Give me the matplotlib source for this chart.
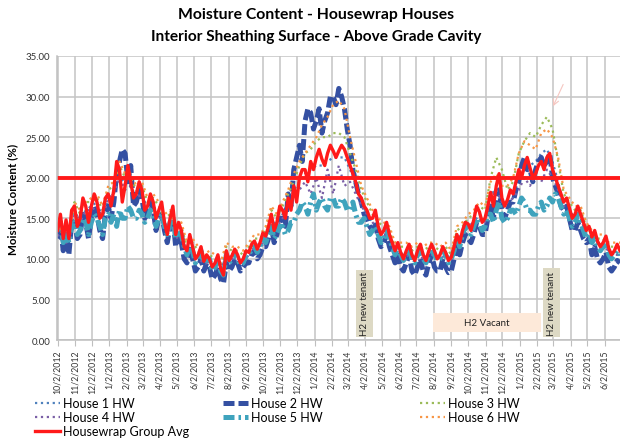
import pandas as pd
import matplotlib
matplotlib.use("Agg")
import matplotlib.pyplot as plt
import matplotlib.dates as mdates
from matplotlib.patches import Rectangle

plt.rcParams['font.family'] = ['Lato', 'DejaVu Sans']

# readings start 10/2/2012; dotted houses every 10 days, the rest every 5 days
start = pd.Timestamp('2012-10-02')
dates10 = pd.date_range(start, periods=101, freq='10D')
dates5 = pd.date_range(start, periods=201, freq='5D')

house1 = [13.5, 12, 12, 16, 14.5, 16, 16.5, 17, 15, 17.5, 18, 20.5, 19, 19, 17.5, 18, 16, 16.5, 15.5, 14,
          14.5, 12.5, 13, 10.5, 11, 10, 9.5, 10, 9, 8.5, 10.5, 10, 10, 9.5, 10.5, 12, 11.5, 12.5, 15, 14,
          15.5, 17, 18.5, 19.5, 20.5, 21, 21.5, 21.5, 22, 22.5, 22.5, 22.5, 21, 19, 17, 15.5, 14.5, 13.5, 13, 12.5,
          10.5, 10.5, 10.5, 10, 10.5, 10, 10.5, 10.5, 10, 10.5, 10, 12.5, 13, 14, 14.5, 15.5, 14.5, 18, 18.5, 17,
          17, 17.5, 20, 21, 21.5, 22, 23, 23.5, 22, 19.5, 16.5, 16, 15, 15, 13, 12.5, 12, 11.5, 11, 10.5, 10.5]
house3 = [14, 13, 13, 17, 15.5, 17, 17, 17.5, 16, 18.5, 19, 21.5, 20, 20, 18.5, 19, 17, 17.5, 16.5, 15,
          15.5, 13.5, 14, 11.5, 12, 11, 10, 10.5, 10, 9, 11.5, 11, 11, 10.5, 11.5, 12.5, 12.5, 13.5, 16, 15,
          16.5, 18, 19.5, 21.5, 23, 23.5, 24.5, 25, 25, 25.5, 25.5, 25, 23, 21, 18.5, 17, 15.5, 14.5, 14, 13.5,
          11.5, 11.5, 11.5, 11, 11.5, 11, 11.5, 11.5, 11, 11.5, 10.5, 13.5, 14, 15, 15.5, 16.5, 16, 20, 22.5, 21,
          18.5, 19.5, 23, 24.5, 25.5, 25, 26.5, 27.5, 26, 22, 18, 17, 16, 16, 14, 13, 12.5, 12.5, 11.5, 11.5, 11.5]
house4 = [13, 12, 12, 16, 14.5, 16, 16, 16.5, 15, 17.5, 18, 20, 18.5, 19, 17.5, 18, 16, 16.5, 15.5, 14,
          14.5, 12.5, 13, 10.5, 11, 10, 9.5, 9.5, 9, 8.5, 10.5, 10, 10, 9.5, 10.5, 11.5, 11.5, 12.5, 15, 14,
          15, 16.5, 18, 18.5, 19.5, 18, 20, 17.5, 21, 18, 21.5, 19, 19.5, 18, 16.5, 15.5, 14.5, 13.5, 13, 12.5,
          10.5, 10.5, 10.5, 10, 10.5, 10, 10.5, 10.5, 10, 10.5, 10, 12.5, 13, 14, 14.5, 15, 14.5, 17.5, 18.5, 17,
          17, 17.5, 18.5, 20, 19, 20.5, 19.5, 21, 20, 18.5, 16.5, 16, 15, 15, 13, 12.5, 12, 11.5, 11, 10.5, 10.5]
house6 = [14.5, 13, 13, 17, 16, 17, 17.5, 18, 16.5, 19, 19.5, 22, 20.5, 20.5, 19, 19.5, 17.5, 18, 17, 15.5,
          16, 14, 14.5, 12, 12.5, 11.5, 10.5, 11, 10.5, 9.5, 12, 11.5, 11.5, 11, 12, 13, 13, 14, 16.5, 15.5,
          17, 18.5, 20.5, 22, 23, 24, 25, 26.5, 27.5, 29, 29.5, 28.5, 25, 22, 19, 17.5, 16, 15, 14.5, 14,
          12, 12, 12, 11.5, 12, 11.5, 12, 12, 11.5, 12, 11, 14, 14.5, 15.5, 16, 17, 16.5, 19.5, 20.5, 19,
          19, 20, 23, 24.5, 24, 23.5, 25.5, 26, 25, 22.5, 18.5, 17.5, 16.5, 16.5, 14.5, 13.5, 13, 13, 12, 12, 12]

house2 = [12.5, 14, 11, 13, 10.5, 14.5, 14.5, 12.5, 13, 15.5, 14.5, 12.5, 15, 16.5, 15.5, 13.5, 12.5, 15.5, 16.5, 15,
          17, 20.5, 22, 23.5, 23, 19.5, 21.5, 16.5, 17, 18.5, 17.5, 15, 15.5, 17, 16, 13.5, 15, 15.5, 13.5, 12,
          14, 15, 11.5, 13, 12, 10, 9.5, 11.5, 10, 8.5, 9, 10, 8.5, 9.5, 9, 7.5, 8, 9, 7.5, 7,
          9.5, 8.5, 9, 10, 9.5, 8.5, 9, 9.5, 9.5, 10.5, 11, 10, 10.5, 11.5, 11.5, 12.5, 14, 12, 13, 15,
          15, 14, 18, 16.5, 21, 22.5, 24, 22, 27, 28.5, 28, 26, 27, 28.5, 25.5, 27, 28, 30, 30, 29,
          31, 30, 28.5, 26, 24, 21, 19.5, 18, 17, 15.5, 15, 14, 13.5, 14.5, 12.5, 11.5, 12, 13, 11.5, 10.5,
          9.5, 10.5, 9, 8.5, 9.5, 10.5, 8.5, 8, 9, 10, 8.5, 8, 9.5, 10.5, 9, 8.5, 8.5, 10, 9, 8.3,
          8.5, 10, 11.5, 10.5, 12, 13, 12.5, 12, 13, 14.5, 14, 13, 13, 15, 16.5, 15, 17.5, 18.5, 16, 15,
          16, 17, 17, 18.5, 19.5, 21.5, 22.5, 21, 21, 19.5, 21, 22, 22.5, 21.5, 22, 23, 20, 19, 18, 16.5,
          16, 16.5, 15, 13.5, 13.5, 14.5, 13.5, 12.5, 12, 12.5, 10.5, 11.5, 10, 9.5, 10, 10.8, 9, 8.5, 9, 9.8,
          9.5]
house5 = [13.5, 14.5, 12, 13.5, 12, 14, 14.5, 13, 13.5, 15, 14.5, 13, 14.5, 15.5, 15, 14, 13, 15, 15.5, 14.5,
          15.5, 14, 16, 15, 15, 16.5, 16, 15, 15, 16, 15.5, 14.5, 15, 16, 15.5, 14, 15, 15.5, 14, 13,
          14.5, 15, 12.5, 13.5, 13, 11.5, 10.5, 12, 11, 9.5, 10, 11, 9.5, 10, 10, 8.5, 9, 10, 8.5, 8,
          10.5, 9.5, 10, 10.8, 10, 9.2, 9.5, 10.5, 10.5, 11.2, 11.5, 10.8, 11.5, 12.5, 12, 13, 14, 12.5, 13, 14,
          14, 13, 13.5, 14.5, 14.5, 15.5, 16, 17, 16.5, 15.5, 17, 18, 16, 17, 17.5, 16.5, 16, 17.5, 17.5, 16.5,
          16.5, 17.5, 17, 16, 16, 17, 15.5, 14.5, 14.5, 15, 14, 13, 13.5, 14, 13, 12, 12.5, 13.5, 12.5, 11.5,
          10.5, 11.5, 10.5, 9.8, 10.5, 11.3, 10, 9.5, 10.5, 11.3, 10, 9.5, 10.5, 11.3, 10.5, 9.8, 10, 11, 10.5, 9.5,
          10, 11, 12.5, 11.5, 13, 14, 13.5, 13, 14, 15, 14.5, 13.5, 14, 15.5, 15.5, 14.5, 16, 17, 15, 14.5,
          15, 16, 16, 15.5, 16.5, 17.5, 17, 16, 16, 15.5, 15.5, 16.5, 17, 16, 16.5, 17.5, 17, 18, 17.5, 16.5,
          15.5, 16, 15, 14, 14.5, 15.5, 14.5, 13.5, 12.5, 13, 12, 12.5, 11.5, 11, 11.5, 12, 10.5, 10, 10.5, 11,
          10.5]
group_avg = [13.5, 15.5, 12.5, 14.8, 12.5, 16, 16.5, 14, 15, 17.5, 16.5, 14.5, 16.5, 18, 17, 15, 15.5, 17.5, 18, 16.5,
             18.5, 22, 21, 17, 19, 21.5, 19.5, 17.5, 18, 19.5, 18.5, 16, 16.5, 18, 17, 15, 16, 17, 14.5, 13,
             15, 16.5, 13, 14.5, 13.5, 11.5, 11, 13, 11.5, 10, 10.5, 11.5, 9.7, 10.5, 10, 9, 9.5, 10.5, 8.8, 8,
             11, 9.8, 10.4, 11.2, 10.5, 9.5, 10, 11, 10.8, 11.8, 12.2, 11.2, 12, 13.2, 12.8, 14, 15.5, 13.5, 14.5, 16.5,
             16, 15, 17.5, 16, 19, 17, 20, 21, 21, 19.5, 22, 21, 22.5, 23.5, 22.3, 21.5, 23, 24, 23.3, 22.5,
             23.3, 24, 23.5, 22.5, 21.5, 20.5, 19.5, 18, 17.5, 16.5, 16, 15, 15, 16, 14, 13, 13.5, 14.5, 13, 12,
             11, 12, 10.8, 10, 11, 11.8, 10.5, 9.8, 11, 11.8, 10.5, 9.8, 11, 11.8, 11, 10, 10.5, 11.5, 10.8, 9.8,
             10.2, 11.5, 13, 12, 13.5, 14.5, 14.3, 13.5, 14.8, 16.5, 15.8, 14.5, 15, 16.5, 18.2, 16.5, 19, 20.5, 17.5, 16.5,
             17.3, 18.5, 18, 19.5, 21, 20, 21.5, 22.5, 21.2, 20, 20.5, 21.5, 22, 21, 22.5, 23, 21, 20, 19, 18,
             17, 17.5, 16.3, 15, 15.5, 16.5, 15.5, 14.5, 13.5, 14, 12.7, 13.5, 12.2, 11.5, 12, 12.8, 11.3, 10.5, 11, 11.8,
             11]

tick_labels = ['10/2/2012', '11/2/2012', '12/2/2012', '1/2/2013', '2/2/2013', '3/2/2013', '4/2/2013',
               '5/2/2013', '6/2/2013', '7/2/2013', '8/2/2013', '9/2/2013', '10/2/2013', '11/2/2013',
               '12/2/2013', '1/2/2014', '2/2/2014', '3/2/2014', '4/2/2014', '5/2/2014', '6/2/2014',
               '7/2/2014', '8/2/2014', '9/2/2014', '10/2/2014', '11/2/2014', '12/2/2014', '1/2/2015',
               '2/2/2015', '3/2/2015', '4/2/2015', '5/2/2015', '6/2/2015']
threshold = 20

fig = plt.figure(figsize=(6.2, 4.39), dpi=100)
ax = fig.add_axes([0.092, 0.2232, 0.908, 0.647])

ax.plot(dates10, house1, color='#4f81bd', ls=':', lw=1.6, label='House 1 HW')
ax.plot(dates5, house2, color='#3450a2', ls=(0, (2.2, 0.8)), lw=3.6, label='House 2 HW')
ax.plot(dates10, house3, color='#9bbb59', ls=':', lw=1.6, label='House 3 HW')
ax.plot(dates10, house4, color='#7a5fa6', ls=':', lw=1.6, label='House 4 HW')
ax.plot(dates5, house5, color='#3fa3bd', ls=(0, (2.2, 0.8, 0.5, 0.8)), lw=3.6, label='House 5 HW')
ax.plot(dates10, house6, color='#f79646', ls=':', lw=1.6, label='House 6 HW')
ax.plot(dates5, group_avg, color='#ff1a1a', lw=2.4, label='Housewrap Group Avg')
ax.axhline(threshold, color='#ff1a1a', lw=2.8)


def rd(s):
    return mdates.date2num(pd.Timestamp(s))


# annotation boxes
ax.add_patch(Rectangle((rd('2014-03-17'), 0.4), 30, 8.2, facecolor='#ddd9c4', edgecolor='none', zorder=5))
ax.text(rd('2014-04-01'), 4.5, 'H2 new tenant', rotation=90, ha='center', va='center', fontsize=7, color='#222222', zorder=6)
ax.add_patch(Rectangle((rd('2015-02-12'), 0.4), 30, 8.5, facecolor='#ddd9c4', edgecolor='none', zorder=5))
ax.text(rd('2015-02-27'), 4.6, 'H2 new tenant', rotation=90, ha='center', va='center', fontsize=7, color='#222222', zorder=6)
ax.add_patch(Rectangle((rd('2014-07-31'), 1.0), 193, 2.35, facecolor='#fde9d9', edgecolor='none', zorder=5))
ax.text(rd('2014-07-31') + 96, 2.15, 'H2 Vacant', ha='center', va='center', fontsize=7, color='#222222', zorder=6)
ax.annotate('', xy=(rd('2015-02-28'), 28.5), xytext=(rd('2015-03-22'), 31.8),
            arrowprops=dict(arrowstyle='->', color='#f5c6c0', lw=0.8))

ax.set_xlim(start - pd.Timedelta(days=1), start + pd.Timedelta(days=1000))
ax.set_ylim(0, 35)
ax.set_yticks(range(0, 36, 5))
ax.set_yticklabels(['%.2f' % v for v in range(0, 36, 5)], fontsize=7, color='#333333')
ax.set_xticks([rd(pd.to_datetime(t, format='%m/%d/%Y')) for t in tick_labels])
ax.set_xticklabels(tick_labels, rotation=90, fontsize=6.3, color='#333333')
ax.tick_params(axis='y', length=0, pad=5)
ax.tick_params(axis='x', length=4, color='#bfbfbf', pad=3)
ax.grid(True, color='#c4c4c4', lw=1.1)
ax.set_axisbelow(True)
for s in ['top', 'right']:
    ax.spines[s].set_visible(False)
for s in ['left', 'bottom']:
    ax.spines[s].set_color('#bfbfbf')
    ax.spines[s].set_linewidth(1.1)

ax.set_ylabel('Moisture Content (%)', fontsize=8.4, fontweight='bold', labelpad=5)

fig.text(0.51, 0.966, 'Moisture Content - Housewrap Houses', ha='center', va='center', fontsize=11.3, fontweight='bold')
fig.text(0.51, 0.916, 'Interior Sheathing Surface - Above Grade Cavity', ha='center', va='center', fontsize=11.1, fontweight='bold')

h, l = ax.get_legend_handles_labels()
cols = [([0, 3, 6], 0.056), ([1, 4], 0.359), ([2, 5], 0.677)]
for idx, xpos in cols:
    fig.legend([h[i] for i in idx], [l[i] for i in idx], loc='upper left', bbox_to_anchor=(xpos, 0.093),
               frameon=False, fontsize=9, handlelength=2.0, handletextpad=0.25, labelspacing=0.15,
               borderpad=0, borderaxespad=0)

fig.savefig('out.png', dpi=100)
